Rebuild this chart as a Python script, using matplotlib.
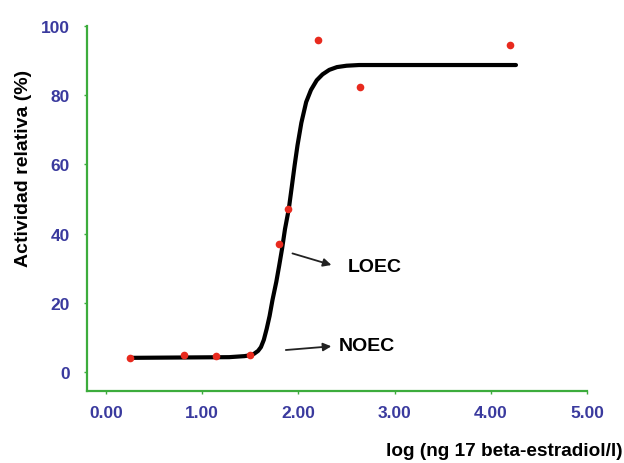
import matplotlib.pyplot as plt

plt.rcParams['font.family'] = ['Liberation Sans', 'DejaVu Sans']

# measured points
log_conc = [0.25, 0.81, 1.14, 1.50, 1.80, 1.89, 2.20, 2.64, 4.20]
actividad = [4.1, 4.9, 4.6, 4.9, 37.0, 47.0, 96.0, 82.3, 94.5]

# fitted curve
curve_x = [0.25, 1.28, 1.44, 1.51, 1.54, 1.58, 1.61, 1.64, 1.67, 1.70, 1.73,
           1.77, 1.80, 1.83, 1.86, 1.90, 1.93, 1.96, 1.99, 2.03, 2.08, 2.13,
           2.19, 2.25, 2.32, 2.40, 2.50, 2.63, 4.26]
curve_y = [4.1, 4.3, 4.6, 4.9, 5.3, 6.1, 7.2, 9.3, 12.5, 16.2, 20.8,
           26.1, 30.8, 35.7, 41.3, 47.2, 53.4, 59.7, 65.5, 72.0, 78.0, 81.5,
           84.3, 86.0, 87.3, 88.1, 88.5, 88.7, 88.7]

xticks = [0, 1, 2, 3, 4, 5]
xtick_labels = ['0.00', '1.00', '2.00', '3.00', '4.00', '5.00']
yticks = [0, 20, 40, 60, 80, 100]

green = '#3cac3c'
blue = '#3a3a9e'

fig = plt.figure(figsize=(6.24, 4.64), dpi=100)
ax = fig.add_axes([0.139, 0.155, 0.802, 0.787])

ax.plot(curve_x, curve_y, color='black', linewidth=3.0, solid_capstyle='round',
        solid_joinstyle='round', zorder=2)
ax.plot(log_conc, actividad, 'o', color='#e82a1e', markersize=5.5, markeredgewidth=0, zorder=3)

ax.set_xlim(-0.2, 5.0)
ax.set_ylim(-5.5, 100)
ax.set_xticks(xticks)
ax.set_xticklabels(xtick_labels)
ax.set_yticks(yticks)

for s in ['top', 'right']:
    ax.spines[s].set_visible(False)
for s in ['left', 'bottom']:
    ax.spines[s].set_color(green)
    ax.spines[s].set_linewidth(1.6)

ax.tick_params(axis='both', colors=green, length=2, width=1, labelsize=12.5)
for lab in ax.get_xticklabels() + ax.get_yticklabels():
    lab.set_color(blue)
    lab.set_fontweight('bold')
ax.tick_params(axis='x', pad=8)
ax.tick_params(axis='y', pad=10)

fig.text(0.037, 0.636, 'Actividad relativa (%)', fontsize=14, fontweight='bold',
         rotation=90, ha='center', va='center')
fig.text(0.997, 0.026, 'log (ng 17 beta-estradiol/l)', fontsize=13.7, fontweight='bold',
         ha='right', va='center')

# annotations
ax.annotate('', xy=(2.37, 30.7), xytext=(1.91, 34.5),
            arrowprops=dict(arrowstyle='-|>', color='#222222', lw=1.3, mutation_scale=12))
ax.text(2.51, 30.4, 'LOEC', fontsize=14, fontweight='bold', va='center', ha='left')
ax.annotate('', xy=(2.37, 7.5), xytext=(1.84, 6.3),
            arrowprops=dict(arrowstyle='-|>', color='#222222', lw=1.3, mutation_scale=12))
ax.text(2.42, 7.8, 'NOEC', fontsize=14, fontweight='bold', va='center', ha='left')

fig.savefig('out.png', dpi=100)
